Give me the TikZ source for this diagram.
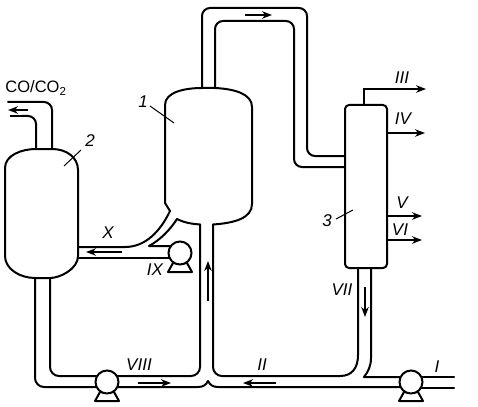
\documentclass[tikz,border=0pt]{standalone}
\usepackage{fontspec}
\setmainfont{Liberation Sans}
\usetikzlibrary{arrows.meta}
\tikzset{
  x=1pt,y=-1pt,
  wall/.style={line width=2pt,line join=round,line cap=round},
  flow/.style={line width=1.8pt,-{Stealth[length=10pt,width=7.5pt]}},
  leader/.style={line width=1pt},
  lab/.style={font=\fontsize{17}{17}\selectfont\itshape,inner sep=0pt},
  pumpbody/.style={line width=2pt,draw=black,fill=white},
}
\newcommand{\pump}[2]{%
  \draw[wall,fill=white] (#1-7,#2+10) -- (#1-12,#2+19) -- (#1+12,#2+19) -- (#1+7,#2+10) -- cycle;
  \draw[pumpbody] (#1,#2) circle (11.5);
}
\begin{document}
\begin{tikzpicture}
\useasboundingbox (0,0) rectangle (478,406);
% vessel 1
\draw[wall] (202,88) .. controls (185,88) and (165,92) .. (165,105) -- (165,203) -- (170,211);
\draw[wall] (177,219) .. controls (185,223) and (193,224) .. (200,224.5);
\draw[wall] (213,224.5) .. controls (235,223) and (252,218) .. (252,204) -- (252,107) .. controls (252,94) and (235,89) .. (215,88) -- (202,88);
% vessel 2
\draw[wall] (5,168) .. controls (5,155) and (22,149) .. (36,149) -- (52,149) .. controls (66,149) and (78,157) .. (78,170) -- (78,256) .. controls (78,269) and (60,278) .. (50,278) -- (35,278) .. controls (20,278) and (5,269) .. (5,256) -- cycle;
% vessel 3
\draw[wall,rounded corners=4pt] (345,105) rectangle (387,268);
% top pipe
\draw[wall,rounded corners=8pt] (202,88) -- (202,8) -- (307,8) -- (307,156) -- (345,156);
\draw[wall,rounded corners=8pt] (215,88) -- (215,21) -- (294,21) -- (294,167) -- (345,167);
% co pipe
\draw[wall,rounded corners=8pt] (52,149) -- (52,102) -- (8,102);
\draw[wall,rounded corners=8pt] (36,149) -- (36,116) -- (22,116);
% X branch
\draw[wall] (170,211) .. controls (160,232) and (145,247) .. (125,247) -- (78,247);
\draw[wall] (177,219) .. controls (170,230) and (160,240) .. (149,246) -- (170,246);
\draw[wall] (78,258) -- (170,258);
% bottom left
\draw[wall,rounded corners=9pt] (35,278) -- (35,387) -- (97,387);
\draw[wall,rounded corners=9pt] (50,278) -- (50,376) -- (97,376);
\draw[wall,rounded corners=9pt] (117,376) -- (200,376) -- (200,224.5);
\draw[wall] (117,387) -- (198,387) .. controls (203,387) and (206,385) .. (208,381) .. controls (210,385) and (213,387) .. (218,387) -- (401,387);
\draw[wall,rounded corners=9pt] (213,224.5) -- (213,376) -- (340,376);
\draw[wall] (340,376) .. controls (352,376) and (358,368) .. (358,355) -- (358,268);
\draw[wall] (371,268) -- (371,358) .. controls (371,366) and (368,372) .. (364,377) -- (401,377);
\draw[wall] (421,377) -- (454,377) (421,388) -- (454,388);
% pumps
\pump{180}{253}
\pump{107}{382}
\pump{411}{382}
% flow arrows
\draw[flow] (245,15) -- (272,15);
\draw[flow] (122,252) -- (86,252);
\draw[flow] (138,383) -- (171,383);
\draw[flow] (276,383) -- (243,383);
\draw[flow] (208,301) -- (208,261);
\draw[flow] (365,287) -- (365,317);
\draw[flow] (28,110) -- (8,110);
\draw[line width=1.8pt] (28,116) -- (10,116);
\draw[flow] (364,105) -- (364,89) -- (426,89);
\draw[flow] (387,133) -- (425,133);
\draw[flow] (387,216) -- (422,216);
\draw[flow] (387,240) -- (422,240);
% leaders
\draw[leader] (150,106) -- (174,123);
\draw[leader] (81,150) -- (64,166);
\draw[leader] (336,219) -- (353,210);
% labels
\node[inner sep=0pt,font=\fontsize{16.5}{16.5}\selectfont] (co) at (36,88) {CO/CO\textsubscript{2}};
\node[lab] (n1) at (143,102) {1};
\node[lab] (n2) at (90,141) {2};
\node[lab] (n3) at (327,221) {3};
\node[lab] (lx) at (108,233) {X};
\node[lab] (lix) at (155,270) {IX};
\node[lab] (lviii) at (139,365) {VIII};
\node[lab] (lii) at (262,365) {II};
\node[lab] (li) at (437,367) {I};
\node[lab] (lvii) at (342,290) {VII};
\node[lab] (liii) at (402,78) {III};
\node[lab] (liv) at (403,119) {IV};
\node[lab] (lv) at (402,203) {V};
\node[lab] (lvi) at (400,230) {VI};
\end{tikzpicture}
\end{document}
